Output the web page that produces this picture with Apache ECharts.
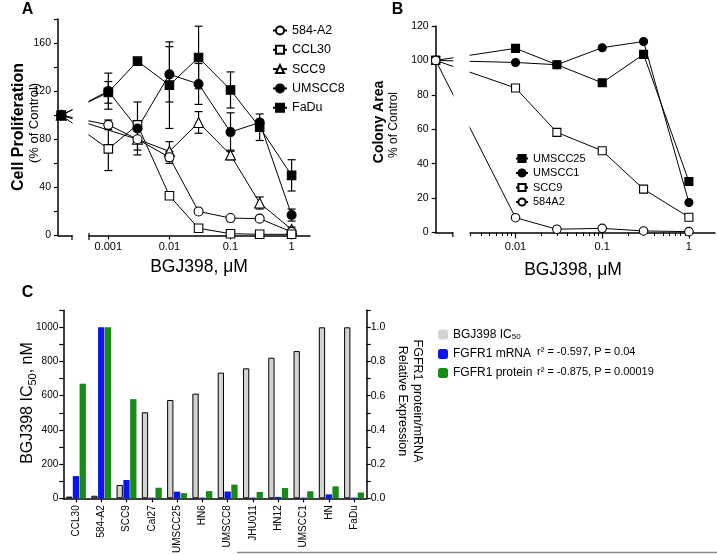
<!DOCTYPE html>
<html><head><meta charset="utf-8">
<script src="https://cdn.jsdelivr.net/npm/echarts@6/dist/echarts.min.js"></script>
<style>html,body{margin:0;padding:0;background:#fff}#c{width:717px;height:554px}</style>
</head><body><div id="c"></div>
<script>
// ---------- Panel A: cell proliferation (% of control) ----------
const dosesA = [0.001, 0.003, 0.01, 0.03, 0.1, 0.3, 1];
const controlDoseA = 0.00017;
const controlValue = 100;
const a584A2 = [92, 80, 65, 20, 14.5, 14, 3];
const a584A2Err = [4, 9, 5, 0, 0, 0, 0];
const aCCL30 = [72, 92, 33, 6, 1.5, 1, 1];
const aCCL30Err = [18, 0, 0, 0, 0, 0, 0];
const aSCC9 = [null, 80, 70, 94, 67, 27, 5];
const aSCC9Err = [0, 0, 8, 9, 4, 5, 2];
const aUMSCC8 = [120, 89, 134, 126, 86, 94, 17];
const aUMSCC8Err = [15, 22, 23, 17, 16, 0, 5];
const aFaDu = [119, 145, 125, 148, 121, 90, 50];
const aFaDuErr = [9, 0, 36, 26, 15, 11, 13];
const ticksA = [0.001, 0.01, 0.1, 1];

// ---------- Panel B: colony area (% of control) ----------
const dosesB = [0.01, 0.03, 0.1, 0.3, 1];
const controlDoseB = 0.0012;
const bUMSCC25 = [107, 97.5, 87, 103.5, 29.6];
const bUMSCC1 = [98.8, 97.5, 107.4, 111, 17.4];
const bSCC9 = [84, 58.2, 47.5, 25.2, 8.9];
const b584A2 = [8.6, 1.9, 2.4, 0.9, 0.5];
const ticksB = [0.01, 0.1, 1];
const minorTicksB = [0.003,0.004,0.005,0.006,0.007,0.008,0.009,0.02,0.03,0.04,0.05,0.06,0.07,0.08,0.09,0.2,0.3,0.4,0.5,0.6,0.7,0.8,0.9];

// ---------- Panel C: IC50 vs FGFR1 expression ----------
const cellLines = ['CCL30','584-A2','SCC9','Cal27','UMSCC25','HN6','UMSCC8','JHU011','HN12','UMSCC1','HN','FaDu'];
const ic50 = [10, 15, 78, 503, 575, 612, 735, 760, 822, 861, 1000, 1000];
const fgfr1mRNA = [0.13, 1.0, 0.107, 0.004, 0.039, 0.004, 0.04, 0.004, 0.008, 0.004, 0.023, 0.004];
const fgfr1Protein = [0.67, 1.0, 0.58, 0.062, 0.03, 0.042, 0.08, 0.037, 0.06, 0.041, 0.07, 0.034];
const corrText = ['r\u00b2 = -0.597, P = 0.04', 'r\u00b2 = -0.875, P = 0.00019'];

const FONT = '"Liberation Sans", Arial, Helvetica, sans-serif';
const K = '#000';

function fmtDose(v){ return String(Number(Number(v).toPrecision(3))); }

function lineSeries(name, doses, ctrlDose, vals, symbol, filled, size, xi, yi){
  const data = [[ctrlDose, controlValue]].concat(doses.map((d,i)=>[d, vals[i]])).filter(p=>p[1]!=null);
  return {type:'line', name, xAxisIndex:xi, yAxisIndex:yi, data, symbol, symbolSize:size,
    showSymbol:true, clip:false, silent:true, z:3,
    lineStyle:{color:K, width:1}, itemStyle:{color: filled?K:'#fff', borderColor:K, borderWidth:1.1},
    emphasis:{disabled:true}};
}
function errSeries(name, doses, vals, errs){
  const data = doses.map((d,i)=>[d, vals[i], errs[i]]).filter(p=>p[1]!=null && p[2]>0);
  return {type:'custom', name, xAxisIndex:0, yAxisIndex:0, data, clip:false, silent:true, z:2,
    renderItem(params, api){
      const x = api.value(0), y = api.value(1), e = api.value(2);
      const t = api.coord([x, y+e]), b = api.coord([x, y-e]);
      const cw = 4, st = {stroke:K, lineWidth:1.2};
      return {type:'group', children:[
        {type:'line', shape:{x1:t[0],y1:t[1],x2:b[0],y2:b[1]}, style:st},
        {type:'line', shape:{x1:t[0]-cw,y1:t[1],x2:t[0]+cw,y2:t[1]}, style:st},
        {type:'line', shape:{x1:b[0]-cw,y1:b[1],x2:b[0]+cw,y2:b[1]}, style:st}
      ]};
    }};
}

const axisLineK = {show:true, onZero:false, lineStyle:{color:K, width:1.5}};
const lblK = {color:K, fontSize:11, fontFamily:FONT};

const option = {
  animation:false,
  textStyle:{fontFamily:FONT},
  grid:[
    {left:58, right:407, top:19, bottom:318.5, outerBoundsMode:'none'},
    {left:435.7, right:2, top:26, bottom:321.5, outerBoundsMode:'none'},
    {left:63.3, right:350.3, top:310.2, bottom:55.7, outerBoundsMode:'none'}
  ],
  xAxis:[
    {type:'log', gridIndex:0, position:'bottom', min:0.00015, max:2, axisLine:axisLineK,
     axisTick:{show:true, customValues:ticksA, length:4, lineStyle:{color:K, width:1.2}},
     axisLabel:Object.assign({customValues:ticksA, formatter:fmtDose, margin:6}, lblK), splitLine:{show:false}},
    {type:'log', gridIndex:1, position:'bottom', min:controlDoseB, max:2, axisLine:axisLineK,
     axisTick:{show:true, customValues:ticksB, length:6, lineStyle:{color:K, width:1.2}},
     axisLabel:Object.assign({customValues:ticksB, formatter:fmtDose, margin:9}, lblK), splitLine:{show:false}},
    {type:'log', gridIndex:1, position:'bottom', min:controlDoseB, max:2, axisLine:{show:false},
     axisTick:{show:true, customValues:minorTicksB, length:3.5, lineStyle:{color:K, width:1}},
     axisLabel:{show:false}, splitLine:{show:false}},
    {type:'category', gridIndex:2, data:cellLines, axisLine:axisLineK,
     axisTick:{show:true, alignWithLabel:true, length:4, lineStyle:{color:K, width:1.2}},
     axisLabel:Object.assign({}, lblK, {rotate:90, margin:7, interval:0, fontSize:10}), splitLine:{show:false}}
  ],
  yAxis:[
    {type:'value', gridIndex:0, min:0, max:180, interval:20, axisLine:axisLineK,
     axisTick:{show:true, length:4, lineStyle:{color:K, width:1.2}},
     axisLabel:Object.assign({}, lblK, {margin:7, fontSize:10.5, formatter:v=> v%40===0 ? String(v) : ''}), splitLine:{show:false}},
    {type:'value', gridIndex:1, min:0, max:120, interval:20, axisLine:axisLineK,
     axisTick:{show:true, length:4, lineStyle:{color:K, width:1.2}},
     axisLabel:Object.assign({}, lblK, {margin:7, fontSize:10.5}), splitLine:{show:false}},
    {type:'value', gridIndex:2, position:'left', min:0, max:1100, interval:100, axisLine:axisLineK,
     axisTick:{show:true, length:4, lineStyle:{color:K, width:1.2}},
     axisLabel:Object.assign({}, lblK, {margin:5, fontSize:10, formatter:v=> v%200===0 ? String(v) : ''}), splitLine:{show:false}},
    {type:'value', gridIndex:2, position:'right', min:0, max:1.1, interval:0.1, axisLine:axisLineK,
     axisTick:{show:true, length:4, lineStyle:{color:K, width:1.2}},
     axisLabel:Object.assign({}, lblK, {margin:4, fontSize:10.5, formatter:v=>{const r=Math.round(v*10); return r%2===0 ? (r/10).toFixed(1) : '';}}), splitLine:{show:false}}
  ],
  legend:[
    {data:['584-A2','CCL30','SCC9','UMSCC8','FaDu'], orient:'vertical', left:267, top:19,
     itemWidth:14, itemHeight:10, itemGap:6.3, selectedMode:false,
     textStyle:{fontSize:12.5, color:K, fontFamily:FONT}},
    {data:['UMSCC25','UMSCC1','SCC9 ','584A2'], orient:'vertical', left:510, top:148,
     itemWidth:12, itemHeight:9, itemGap:3.5, selectedMode:false,
     textStyle:{fontSize:11, color:K, fontFamily:FONT}},
    {data:[{name:'BGJ398 IC50', itemStyle:{borderWidth:0}}, 'FGFR1 mRNA', 'FGFR1 protein'], orient:'vertical', left:433, top:323,
     itemWidth:10, itemHeight:10, itemGap:7, selectedMode:false,
     formatter: n => n==='BGJ398 IC50' ? '{n|BGJ398 IC}{s|50}' : '{n|'+n+'}',
     textStyle:{color:K, fontFamily:FONT, rich:{n:{fontSize:12, color:K, lineHeight:14}, s:{fontSize:8, color:K, lineHeight:14, padding:[5,0,0,0]}}}}
  ],
  series:[
    errSeries('eSCC9', dosesA, aSCC9, aSCC9Err),
    errSeries('e584', dosesA, a584A2, a584A2Err),
    errSeries('eCCL30', dosesA, aCCL30, aCCL30Err),
    errSeries('eUM8', dosesA, aUMSCC8, aUMSCC8Err),
    errSeries('eFaDu', dosesA, aFaDu, aFaDuErr),
    lineSeries('SCC9', dosesA, controlDoseA, aSCC9, 'triangle', false, 10, 0, 0),
    lineSeries('584-A2', dosesA, controlDoseA, a584A2, 'circle', false, 9, 0, 0),
    lineSeries('CCL30', dosesA, controlDoseA, aCCL30, 'rect', false, 8.5, 0, 0),
    lineSeries('UMSCC8', dosesA, controlDoseA, aUMSCC8, 'circle', true, 9, 0, 0),
    lineSeries('FaDu', dosesA, controlDoseA, aFaDu, 'rect', true, 8.5, 0, 0),

    lineSeries('UMSCC25', dosesB, controlDoseB, bUMSCC25, 'rect', true, 8, 1, 1),
    lineSeries('UMSCC1', dosesB, controlDoseB, bUMSCC1, 'circle', true, 8, 1, 1),
    lineSeries('SCC9 ', dosesB, controlDoseB, bSCC9, 'rect', false, 8, 1, 1),
    lineSeries('584A2', dosesB, controlDoseB, b584A2, 'circle', false, 8.5, 1, 1),

    {type:'bar', name:'BGJ398 IC50', xAxisIndex:3, yAxisIndex:2, data:ic50, barWidth:6.3, barGap:'8%', silent:true,
     itemStyle:{color:'#d3d3d3', borderColor:K, borderWidth:1}},
    {type:'bar', name:'FGFR1 mRNA', xAxisIndex:3, yAxisIndex:3, data:fgfr1mRNA, barWidth:6.3, barGap:'8%', silent:true,
     itemStyle:{color:'#0a14ee'}},
    {type:'bar', name:'FGFR1 protein', xAxisIndex:3, yAxisIndex:3, data:fgfr1Protein, barWidth:6.3, barGap:'8%', silent:true,
     itemStyle:{color:'#178a17'}}
  ],
  graphic:[
    // axis breaks
    {type:'rect', z:100, shape:{x:72.6, y:14, width:15.8, height:225}, style:{fill:'#fff'}},
    {type:'line', z:101, shape:{x1:72, y1:235.5, x2:72, y2:240}, style:{stroke:K, lineWidth:1.2}},
    {type:'line', z:101, shape:{x1:89, y1:233, x2:89, y2:240}, style:{stroke:K, lineWidth:1.2}},
    {type:'rect', z:100, shape:{x:453.4, y:20, width:16.2, height:216}, style:{fill:'#fff'}},
    {type:'line', z:101, shape:{x1:452.8, y1:232.5, x2:452.8, y2:237}, style:{stroke:K, lineWidth:1.2}},
    // panel letters
    {type:'text', z:110, x:27.5, y:10, style:{text:'A', font:'bold 16px '+FONT, fill:K, align:'center', verticalAlign:'middle'}},
    {type:'text', z:110, x:397.5, y:10, style:{text:'B', font:'bold 16px '+FONT, fill:K, align:'center', verticalAlign:'middle'}},
    {type:'text', z:110, x:27.5, y:293, style:{text:'C', font:'bold 16px '+FONT, fill:K, align:'center', verticalAlign:'middle'}},
    // axis titles A
    {type:'text', z:110, x:19, y:127, rotation:Math.PI/2, style:{text:'Cell Proliferation', font:'bold 16px '+FONT, fill:K, align:'center', verticalAlign:'middle'}},
    {type:'text', z:110, x:34, y:123, rotation:Math.PI/2, style:{text:'(% of Control)', font:'13px '+FONT, fill:K, align:'center', verticalAlign:'middle'}},
    {type:'text', z:110, x:199, y:267, style:{text:'BGJ398, \u03bcM', font:'17.5px '+FONT, fill:K, align:'center', verticalAlign:'middle'}},
    // axis titles B
    {type:'text', z:110, x:379, y:122, rotation:Math.PI/2, style:{text:'Colony Area', font:'bold 14px '+FONT, fill:K, align:'center', verticalAlign:'middle'}},
    {type:'text', z:110, x:394, y:125, rotation:Math.PI/2, style:{text:'% of Control', font:'12px '+FONT, fill:K, align:'center', verticalAlign:'middle'}},
    {type:'text', z:110, x:573, y:270, style:{text:'BGJ398, \u03bcM', font:'17.5px '+FONT, fill:K, align:'center', verticalAlign:'middle'}},
    // axis titles C
    {type:'text', z:110, x:28, y:403, rotation:Math.PI/2, style:{text:'{a|BGJ398 IC}{s|50}{a|, nM}', align:'center', verticalAlign:'middle',
      rich:{a:{fontSize:16, fontFamily:FONT, fill:K}, s:{fontSize:11, fontFamily:FONT, fill:K, padding:[10,0,0,0]}}}},
    {type:'text', z:110, x:417, y:401, rotation:-Math.PI/2, style:{text:'FGFR1 protein/mRNA', font:'12.5px '+FONT, fill:K, align:'center', verticalAlign:'middle'}},
    {type:'text', z:110, x:402, y:401, rotation:-Math.PI/2, style:{text:'Relative Expression', font:'12.5px '+FONT, fill:K, align:'center', verticalAlign:'middle'}},
    // correlation annotations
    {type:'text', z:110, x:537, y:352, style:{text:corrText[0], font:'11px '+FONT, fill:K, align:'left', verticalAlign:'middle'}},
    {type:'text', z:110, x:537, y:372, style:{text:corrText[1], font:'11px '+FONT, fill:K, align:'left', verticalAlign:'middle'}},
    // bottom rule
    {type:'line', z:110, shape:{x1:237, y1:552.5, x2:717, y2:552.5}, style:{stroke:'#8a8a8a', lineWidth:1.5}}
  ]
};
const chart = echarts.init(document.getElementById('c'));
chart.setOption(option);
</script></body></html>
